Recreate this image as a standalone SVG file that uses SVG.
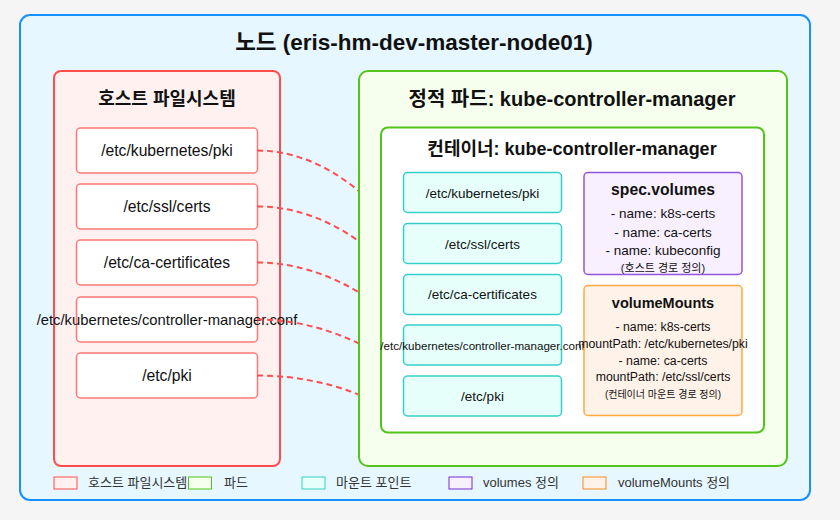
<svg xmlns="http://www.w3.org/2000/svg" width="840" height="520" viewBox="0 0 840 520">
<style>
text{font-family:"Liberation Sans","Noto Sans CJK KR",sans-serif;fill:#111;text-anchor:middle}
.b{font-weight:bold}
.hi{fill:#fff;stroke:#ff7875;stroke-width:1.5}
.mi{fill:#e6fffb;stroke:#36cfc9;stroke-width:1.5}
.conn{fill:none;stroke:#ff4d4f;stroke-width:2;stroke-dasharray:6 4}
.lg{text-anchor:start;font-size:13px;fill:#333}
</style>
<rect x="0" y="0" width="840" height="520" fill="#f5f5f5"/>
<g id="node">
<rect x="20" y="15" width="790" height="485" rx="10" fill="#e6f7ff" stroke="#1890ff" stroke-width="2"/>
<text x="414" y="50" class="b" font-size="22.5">노드 (eris-hm-dev-master-node01)</text>
</g>
<g id="host-fs">
<rect x="54" y="71" width="226" height="395" rx="7" fill="#fff1f0" stroke="#ff4d4f" stroke-width="2"/>
<text x="167" y="105" class="b" font-size="18">호스트 파일시스템</text>
</g>
<g id="host-pki"><rect class="hi" x="76.5" y="128" width="181" height="45" rx="4"/><text x="167" y="156" font-size="15.7">/etc/kubernetes/pki</text></g>
<g id="host-ssl"><rect class="hi" x="76.5" y="184" width="181" height="45" rx="4"/><text x="167" y="212" font-size="15.7">/etc/ssl/certs</text></g>
<g id="host-ca"><rect class="hi" x="76.5" y="240" width="181" height="45" rx="4"/><text x="167" y="268" font-size="15.7">/etc/ca-certificates</text></g>
<g id="host-conf"><rect class="hi" x="76.5" y="297" width="181" height="45" rx="4"/><text x="167" y="325" font-size="14.8">/etc/kubernetes/controller-manager.conf</text></g>
<g id="host-etcpki"><rect class="hi" x="76.5" y="353" width="181" height="45" rx="4"/><text x="167" y="381" font-size="15.7">/etc/pki</text></g>
<g id="connectors">
<path class="conn" d="M257,150.5 C300,150.5 335,171 360,192"/>
<path class="conn" d="M257,206.5 C300,206.5 335,224 360,242"/>
<path class="conn" d="M257,262.5 C300,262.5 335,278 360,293"/>
<path class="conn" d="M257,319.5 C300,319.5 335,332 360,344"/>
<path class="conn" d="M257,375.5 C300,375.5 335,385 360,395"/>
</g>
<g id="pod">
<rect x="359" y="71" width="428" height="395" rx="9" fill="#f6ffed" stroke="#52c41a" stroke-width="2"/>
<text x="572" y="106" class="b" font-size="20">정적 파드: kube-controller-manager</text>
</g>
<g id="container">
<rect x="381" y="127.5" width="383" height="305" rx="7" fill="#fff" stroke="#52c41a" stroke-width="2"/>
<text x="572" y="155" class="b" font-size="18">컨테이너: kube-controller-manager</text>
</g>
<g id="mount-pki"><rect class="mi" x="403.5" y="172.5" width="158" height="40" rx="4"/><text x="482.5" y="197.5" font-size="13.5">/etc/kubernetes/pki</text></g>
<g id="mount-ssl"><rect class="mi" x="403.5" y="223.5" width="158" height="40" rx="4"/><text x="482.5" y="248.5" font-size="13.5">/etc/ssl/certs</text></g>
<g id="mount-ca"><rect class="mi" x="403.5" y="274.5" width="158" height="40" rx="4"/><text x="482.5" y="299" font-size="13.5">/etc/ca-certificates</text></g>
<g id="mount-conf"><rect class="mi" x="403.5" y="325" width="158" height="40" rx="4"/><text x="482.5" y="349.5" font-size="11.6">/etc/kubernetes/controller-manager.conf</text></g>
<g id="mount-etcpki"><rect class="mi" x="403.5" y="376" width="158" height="40" rx="4"/><text x="482.5" y="401" font-size="13.5">/etc/pki</text></g>
<g id="spec-volumes">
<rect x="584" y="172.5" width="158" height="102" rx="4" fill="#f9f0ff" stroke="#9254de" stroke-width="1.5"/>
<text x="663" y="195" class="b" font-size="15.7">spec.volumes</text>
<text x="663" y="217.5" font-size="13.5">- name: k8s-certs</text>
<text x="663" y="236.5" font-size="13.5">- name: ca-certs</text>
<text x="663" y="255" font-size="13.5">- name: kubeconfig</text>
<text x="663" y="272" font-size="11">(호스트 경로 정의)</text>
</g>
<g id="volume-mounts">
<rect x="584" y="285.5" width="158" height="130" rx="4" fill="#fff2e8" stroke="#ffa940" stroke-width="1.5"/>
<text x="663" y="308" class="b" font-size="14.5">volumeMounts</text>
<text x="663" y="330.5" font-size="12.3">- name: k8s-certs</text>
<text x="663" y="347.5" font-size="12.3">mountPath: /etc/kubernetes/pki</text>
<text x="663" y="365" font-size="12.3">- name: ca-certs</text>
<text x="663" y="381" font-size="12.3">mountPath: /etc/ssl/certs</text>
<text x="663" y="398" font-size="10">(컨테이너 마운트 경로 정의)</text>
</g>
<g id="legend">
<rect x="54" y="477" width="23" height="12" fill="#fff1f0" stroke="#ff4d4f" stroke-width="1"/>
<text x="88" y="487" class="lg">호스트 파일시스템</text>
<rect x="188.5" y="477" width="23" height="12" fill="#f6ffed" stroke="#52c41a" stroke-width="1"/>
<text x="224" y="487" class="lg">파드</text>
<rect x="302" y="477" width="23" height="12" fill="#e6fffb" stroke="#36cfc9" stroke-width="1"/>
<text x="336" y="487" class="lg">마운트 포인트</text>
<rect x="449" y="477" width="23" height="12" fill="#f9f0ff" stroke="#722ed1" stroke-width="1"/>
<text x="483" y="487" class="lg">volumes 정의</text>
<rect x="583" y="477" width="23" height="12" fill="#fff2e8" stroke="#fa8c16" stroke-width="1"/>
<text x="618" y="487" class="lg">volumeMounts 정의</text>
</g>
</svg>
